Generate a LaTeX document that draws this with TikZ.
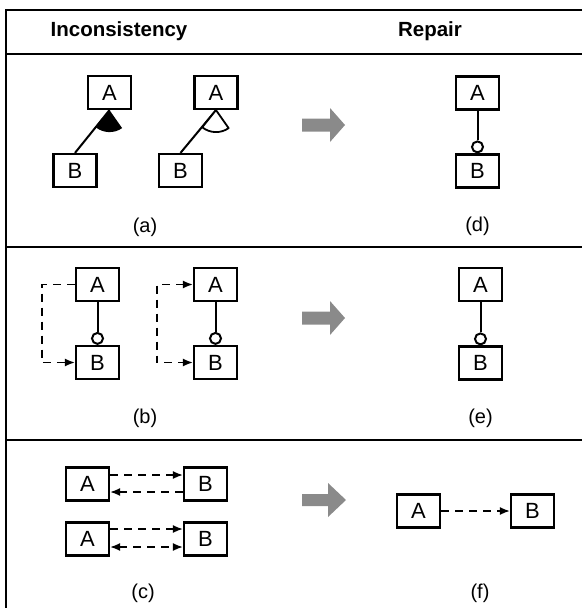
\documentclass[tikz,border=0pt]{standalone}
\usepackage{fontspec}
\setmainfont{Liberation Sans}
\usetikzlibrary{arrows.meta}
\definecolor{arrowgray}{RGB}{138,138,138}
\tikzset{
  box/.style={draw, line width=2.2pt, minimum width=43pt, minimum height=33pt,
    inner sep=0pt, font=\fontsize{22}{22}\selectfont},
  knob/.style={circle, draw, fill=white, line width=2pt, minimum size=11pt,
    inner sep=0pt, anchor=south},
  link/.style={line width=2pt},
  dashline/.style={line width=1.6pt, dash pattern=on 8pt off 6pt},
  tip/.style={-{Latex[length=10pt,width=8pt]}},
  bitip/.style={{Latex[length=10pt,width=8pt]}-{Latex[length=10pt,width=8pt]}},
  frame/.style={line width=2.8pt},
  caption/.style={font=\fontsize{20}{20}\selectfont},
  header/.style={font=\fontsize{20.5}{20.5}\selectfont\bfseries},
  bigarrow/.style={fill=arrowgray},
}
\begin{document}
\begin{tikzpicture}[x=1pt, y=-1pt]
\useasboundingbox (0,0) rectangle (582,608);

% table frame
\draw[frame] (582,10) -- (6,10) -- (6,608);
\draw[frame] (6,54) -- (582,54);
\draw[frame] (6,247) -- (582,247);
\draw[frame] (6,440) -- (582,440);

% column headings
\node[header] (hInc) at (119,31) {Inconsistency};
\node[header] (hRep) at (430,31) {Repair};

% ---- row (a) / (d)
\node[box] (a1) at (109.5,92.5) {A};
\node[box] (b1) at (75,170.5) {B};
\draw[link] (b1.north) -- (a1.south);
\fill (a1.south) -- ++(55:22) arc[start angle=55, end angle=128.7, radius=22] -- cycle;

\node[box] (a2) at (216,92.5) {A};
\node[box] (b2) at (180.5,170.5) {B};
\draw[link] (b2.north) -- (a2.south);
\draw[line width=1.8pt, fill=white, line join=round]
  (a2.south) -- ++(55:22) arc[start angle=55, end angle=128.7, radius=22] -- cycle;

\node[box] (ad) at (477.5,93) {A};
\node[box] (bd) at (477.5,171) {B};
\node[knob] (kd) at (bd.north) {};
\draw[link] (ad.south) -- (kd.north);

\fill[bigarrow] (302,118.5) -- (330,118.5) -- (330,108) -- (345,125)
  -- (330,142) -- (330,131.5) -- (302,131.5) -- cycle;

\node[caption] (la) at (145,227) {(a)};
\node[caption] (ld) at (477.5,226) {(d)};

% ---- row (b) / (e)
\node[box] (a3) at (97.5,284.5) {A};
\node[box] (b3) at (97.5,362.5) {B};
\node[knob] (k3) at (b3.north) {};
\draw[link] (a3.south) -- (k3.north);
\draw[dashline, tip] (a3.west) -- ++(-33,0) |- (b3.west);

\node[box] (a4) at (215.5,284.5) {A};
\node[box] (b4) at (215.5,362.5) {B};
\node[knob] (k4) at (b4.north) {};
\draw[link] (a4.south) -- (k4.north);
\draw[dashline, bitip] (a4.west) -- ++(-36,0) |- (b4.west);

\node[box] (ae) at (480.5,284.5) {A};
\node[box] (be) at (480.5,363) {B};
\node[knob] (ke) at (be.north) {};
\draw[link] (ae.south) -- (ke.north);

\fill[bigarrow] (302,311.5) -- (330,311.5) -- (330,301) -- (345,318)
  -- (330,335) -- (330,324.5) -- (302,324.5) -- cycle;

\node[caption] (lb) at (145,418) {(b)};
\node[caption] (le) at (480.5,418) {(e)};

% ---- row (c) / (f)
\node[box] (a5) at (87.5,484) {A};
\node[box] (b5) at (205.5,484) {B};
\draw[dashline, tip] ([yshift=9pt]a5.east) -- ([yshift=9pt]b5.west);
\draw[dashline, tip] ([yshift=-8pt]b5.west) -- ([yshift=-8pt]a5.east);

\node[box] (a6) at (87.5,539) {A};
\node[box] (b6) at (205.5,539) {B};
\draw[dashline, tip] ([yshift=10pt]a6.east) -- ([yshift=10pt]b6.west);
\draw[dashline, bitip] ([yshift=-8pt]a6.east) -- ([yshift=-8pt]b6.west);

\node[box] (af) at (418.5,511) {A};
\node[box] (bf) at (532.5,511) {B};
\draw[dashline, tip] (af.east) -- (bf.west);

\fill[bigarrow] (302,494) -- (328,494) -- (328,483) -- (346,500)
  -- (328,517) -- (328,506) -- (302,506) -- cycle;

\node[caption] (lc) at (143,593) {(c)};
\node[caption] (lf) at (480,593) {(f)};
\end{tikzpicture}
\end{document}
